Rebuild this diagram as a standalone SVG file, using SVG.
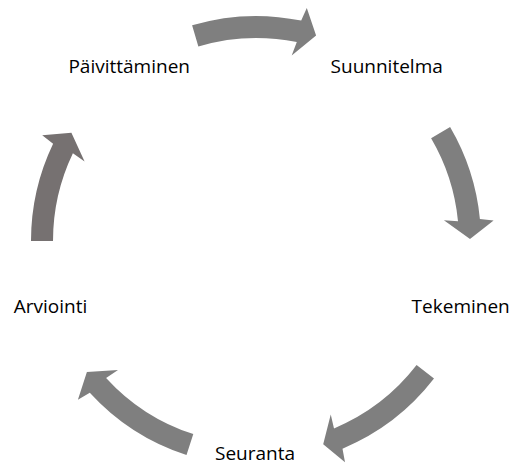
<svg xmlns="http://www.w3.org/2000/svg" width="512" height="466" viewBox="0 0 512 466">
<style>
.lbl{font-family:"Open Sans","Liberation Sans",sans-serif;font-size:19px;fill:#000;text-anchor:middle}
.arr{fill:#7f7f7f;stroke:none}
.arr2{fill:#767171;stroke:none}
</style>
<rect width="512" height="466" fill="#fff"/>
<g id="connectors">
<path class="arr" d="M192.1,25.3 A225,225 0 0 1 301.2,20.6 L306.8,8.0 L316.1,35.6 L291.7,55.4 L296.8,42.1 A203,203 0 0 0 198.35,46.4 Z"/>
<path class="arr" d="M450.1,127.1 A225,225 0 0 1 479.9,219.0 L493.6,220.6 L470.0,239.1 L443.9,220.3 L458.0,221.2 A203,203 0 0 0 431.1,138.3 Z"/>
<path class="arr" d="M434.0,378.6 A225,225 0 0 1 342.5,448.7 L345.0,462.3 L323.2,444.2 L330.75,414.6 L334.0,428.4 A203,203 0 0 0 416.6,365.1 Z"/>
<path class="arr" d="M186.5,455.0 A225,225 0 0 1 89.8,392.7 L77.9,399.7 L86.9,372.1 L118.0,370.1 L106.1,377.9 A203,203 0 0 0 193.3,434.1 Z"/>
<path class="arr2" d="M31,241 A225,225 0 0 1 53.1,143.8 L42.2,135.3 L71.4,132.7 L84.6,161.4 L72.9,153.3 A203,203 0 0 0 53,241 Z"/>
</g>
<g id="node-suunnitelma"><text class="lbl" x="386.7" y="72.7">Suunnitelma</text></g>
<g id="node-tekeminen"><text class="lbl" x="460.7" y="312.7">Tekeminen</text></g>
<g id="node-seuranta"><text class="lbl" x="255" y="459.5">Seuranta</text></g>
<g id="node-arviointi"><text class="lbl" x="50.5" y="312.7">Arviointi</text></g>
<g id="node-paivittaminen"><text class="lbl" x="129.2" y="72.7">Päivittäminen</text></g>
</svg>
